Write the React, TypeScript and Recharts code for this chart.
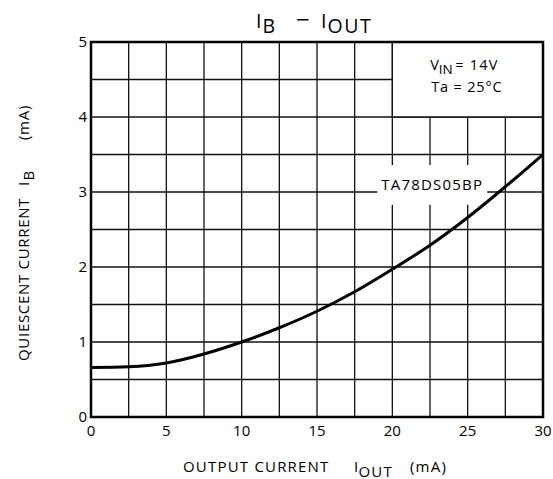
import React from 'react';
import {
  LineChart,
  Line,
  XAxis,
  YAxis,
  CartesianGrid,
  ReferenceArea,
  Customized,
} from 'recharts';

// output current (mA) and quiescent current (mA)
const outputCurrent = [0, 2.5, 5, 7.5, 10, 12.5, 15, 17.5, 20, 22.5, 25, 27.5, 30];
const quiescentCurrent = [0.66, 0.67, 0.72, 0.84, 1.0, 1.19, 1.41, 1.67, 1.97, 2.29, 2.66, 3.07, 3.5];

const xTicks = [0, 5, 10, 15, 20, 25, 30];
const yTicks = [0, 1, 2, 3, 4, 5];
const xGrid = [0, 2.5, 5, 7.5, 10, 12.5, 15, 17.5, 20, 22.5, 25, 27.5, 30];
const yGrid = [0, 0.5, 1, 1.5, 2, 2.5, 3, 3.5, 4, 4.5, 5];

const deviceName = 'TA78DS05BP';

const FONT = '"Open Sans", "Noto Sans", sans-serif';
const GRID = '#111';

const data = outputCurrent.map((x, i) => ({ x, y: quiescentCurrent[i] }));

const Titles = () => (
  <g fontFamily={FONT} fill="#000">
    {/* chart title */}
    <text fontSize={19.5}>
      <tspan x={256} y={27.5}>I</tspan>
      <tspan x={262.5} y={32.5}>B</tspan>
      <tspan x={296} y={27.5} fontSize={24}>−</tspan>
      <tspan x={321} y={27.5}>I</tspan>
      <tspan x={327.5} y={32.5} letterSpacing={1.5}>OUT</tspan>
    </text>
    {/* x axis title */}
    <text fontSize={15} letterSpacing={1.2}>
      <tspan x={183} y={472}>OUTPUT CURRENT</tspan>
      <tspan x={354} y={472}>I</tspan>
      <tspan x={358.5} y={476.5}>OUT</tspan>
      <tspan x={410} y={472}>(mA)</tspan>
    </text>
    {/* y axis title */}
    <g transform="translate(29, 0) rotate(-90)">
      <text fontSize={15} letterSpacing={0.7}>
        <tspan x={-361} y={0}>QUIESCENT CURRENT</tspan>
        <tspan x={-186} y={0}>I</tspan>
        <tspan x={-180.5} y={4.5}>B</tspan>
        <tspan x={-140} y={0}>(mA)</tspan>
      </text>
    </g>
  </g>
);

const ConditionsLabel = (props: any) => {
  const { x, y } = props.viewBox;
  return (
    <text fontFamily={FONT} fontSize={14.5} fill="#000">
      <tspan x={x + 38} y={y + 28}>V</tspan>
      <tspan x={x + 46.5} y={y + 32} fontSize={13.5}>IN</tspan>
      <tspan x={x + 63} y={y + 28} letterSpacing={1.2}>= 14V</tspan>
      <tspan x={x + 39} y={y + 50} letterSpacing={0.8}>Ta = 25°C</tspan>
    </text>
  );
};

export default function App() {
  return (
    <div style={{ position: 'absolute', left: 0, top: 0, width: 553, height: 479, background: '#fff' }}>
      <LineChart
        width={553}
        height={479}
        data={data}
        margin={{ top: 42, right: 10, bottom: 0, left: 0 }}
      >
        <CartesianGrid
          stroke={GRID}
          strokeWidth={1.3}
          horizontalValues={yGrid}
          verticalValues={xGrid}
        />
        <XAxis
          dataKey="x"
          type="number"
          domain={[0, 30]}
          ticks={xTicks}
          height={62}
          tickSize={0}
          tickMargin={8}
          axisLine={false}
          tick={{ fill: '#000', fontSize: 15, fontFamily: FONT }}
        />
        <YAxis
          type="number"
          domain={[0, 5]}
          ticks={yTicks}
          width={91}
          tickSize={0}
          tickMargin={4}
          axisLine={false}
          tick={{ fill: '#000', fontSize: 15, fontFamily: FONT }}
        />
        <ReferenceArea
          x1={20}
          x2={30}
          y1={4}
          y2={5}
          fill="#fff"
          fillOpacity={1}
          stroke={GRID}
          strokeWidth={1.3}
          label={<ConditionsLabel />}
        />
        <ReferenceArea
          x1={19}
          x2={26.3}
          y1={2.83}
          y2={3.36}
          fill="#fff"
          fillOpacity={1}
          stroke="none"
          label={{ value: deviceName, position: 'center', fill: '#000', fontSize: 15, fontFamily: FONT, letterSpacing: 1.2 }}
        />
        <ReferenceArea
          x1={0}
          x2={30}
          y1={0}
          y2={5}
          fill="none"
          stroke="#000"
          strokeWidth={2.5}
        />
        <Line
          type="monotone"
          dataKey="y"
          stroke="#000"
          strokeWidth={3}
          dot={false}
          activeDot={false}
          isAnimationActive={false}
        />
        <Customized component={Titles} />
      </LineChart>
    </div>
  );
}
